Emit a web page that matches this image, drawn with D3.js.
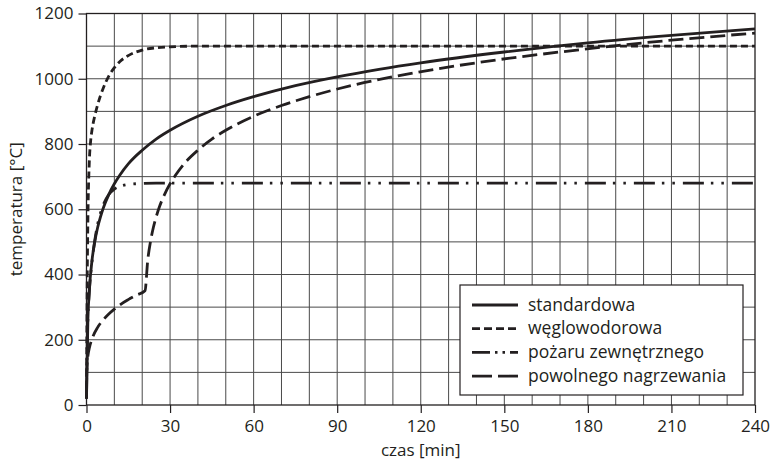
<!DOCTYPE html>
<html>
<head>
<meta charset="utf-8">
<script src="https://cdn.jsdelivr.net/npm/d3@7"></script>
<style>
  body { margin: 0; background: #fff; }
  svg { font-family: "Open Sans", sans-serif; }
</style>
</head>
<body>
<svg id="chart"></svg>
<script>
// values (time in min, temperature in °C)
const stdTime = [0, 0.5, 1, 2, 3, 4, 5, 6, 8, 10, 12, 15, 20, 25, 30, 40, 50, 60, 75, 90, 105, 120, 150, 180, 210, 240]
const stdTemp = [20, 261, 349, 445, 502, 544, 576, 603, 645, 678, 705, 739, 781, 815, 842, 885, 918, 945, 979, 1006, 1029, 1049, 1082, 1110, 1133, 1153]

const hcTime = [0, 0.25, 0.5, 1, 1.5, 2, 3, 4, 5, 6, 8, 10, 12, 15, 20, 25, 30, 40, 60, 120, 240]
const hcTemp = [20, 373, 568, 743, 810, 844, 887, 920, 948, 971, 1008, 1034, 1053, 1071, 1088, 1095, 1098, 1100, 1100, 1100, 1100]

const extTime = [0, 0.25, 0.5, 1, 2, 3, 4, 5, 6, 8, 10, 12, 15, 20, 25, 60, 120, 240]
const extTemp = [20, 182, 263, 346, 441, 506, 554, 588, 613, 645, 662, 670, 676, 679, 680, 680, 680, 680]

const slowTime = [0, 0.1, 0.5, 1, 2, 4, 6, 8, 10, 12, 15, 18, 21, 22, 23, 24, 25, 26, 28, 30, 32, 35, 40, 45, 50, 60, 70, 80, 95, 110, 125, 140, 170, 200, 230, 240]
const slowTemp = [20, 107, 150, 174, 203, 238, 261, 279, 294, 307, 323, 337, 350, 445, 502, 544, 576, 603, 645, 678, 705, 739, 781, 815, 842, 885, 918, 945, 979, 1006, 1029, 1049, 1082, 1110, 1133, 1140]

const seriesNames = ['standardowa', 'węglowodorowa', 'pożaru zewnętrznego', 'powolnego nagrzewania']
const xTicks = [0, 30, 60, 90, 120, 150, 180, 210, 240]
const yTicks = [0, 200, 400, 600, 800, 1000, 1200]

const width = 770, height = 461
const margin = {left: 86.5, right: 15, top: 13.5, bottom: 56}
const ink = '#231f20'

const svg = d3.select('#chart').attr('width', width).attr('height', height)

const x = d3.scaleLinear().domain([0, 240]).range([margin.left, width - margin.right])
const y = d3.scaleLinear().domain([0, 1200]).range([height - margin.bottom, margin.top])

// grid
svg.append('g').selectAll('line')
  .data(d3.range(10, 240, 10))
  .enter().append('line')
  .attr('x1', d => x(d)).attr('x2', d => x(d))
  .attr('y1', y(0)).attr('y2', y(1200))
  .attr('stroke', '#4a4a4a').attr('stroke-width', 1)
svg.append('g').selectAll('line')
  .data(d3.range(100, 1200, 100))
  .enter().append('line')
  .attr('x1', x(0)).attr('x2', x(240))
  .attr('y1', d => y(d)).attr('y2', d => y(d))
  .attr('stroke', '#4a4a4a').attr('stroke-width', 1)

// frame
svg.append('rect')
  .attr('x', x(0)).attr('y', y(1200))
  .attr('width', x(240) - x(0)).attr('height', y(0) - y(1200))
  .attr('fill', 'none').attr('stroke', ink).attr('stroke-width', 1.3)

// axes
const xAxis = svg.append('g')
  .attr('transform', 'translate(0,' + y(0) + ')')
  .call(d3.axisBottom(x).tickValues(xTicks).tickFormat(d3.format('d')).tickSize(8).tickPadding(7))
const yAxis = svg.append('g')
  .attr('transform', 'translate(' + x(0) + ',0)')
  .call(d3.axisLeft(y).tickValues(yTicks).tickFormat(d3.format('d')).tickSize(8).tickPadding(5))
;[xAxis, yAxis].forEach(a => {
  a.select('.domain').remove()
  a.selectAll('line').attr('stroke', ink).attr('stroke-width', 1.2)
  a.selectAll('text').attr('fill', ink).style('font-size', '17px')
    .style('font-family', '"Open Sans", sans-serif')
})

// curves
const line = d3.line()
  .x(d => x(d[0]))
  .y(d => y(d[1]))
  .curve(d3.curveMonotoneX)

const series = [
  {t: stdTime, v: stdTemp, dash: null, key: null},
  {t: hcTime, v: hcTemp, dash: '7 4', key: '8 4'},
  {t: extTime, v: extTemp, dash: '21 7 2.5 8 2.5 8', key: '18 5 2.5 5 2.5 5'},
  {t: slowTime, v: slowTemp, dash: '15 6', key: '20 6'}
]

svg.append('g').selectAll('path')
  .data(series)
  .enter().append('path')
  .attr('d', s => line(s.t.map((t, i) => [t, s.v[i]])))
  .attr('fill', 'none')
  .attr('stroke', ink)
  .attr('stroke-width', 2.8)
  .attr('stroke-dasharray', s => s.dash)

// legend
const legend = svg.append('g').attr('transform', 'translate(460,285)')
legend.append('rect')
  .attr('width', 283).attr('height', 110)
  .attr('fill', '#fff').attr('stroke', ink).attr('stroke-width', 1.2)
const row = legend.selectAll('g.row')
  .data(series)
  .enter().append('g')
  .attr('class', 'row')
  .attr('transform', (d, i) => 'translate(0,' + (20 + i * 23.7) + ')')
row.append('line')
  .attr('x1', 12).attr('x2', 58)
  .attr('stroke', ink).attr('stroke-width', 2.8)
  .attr('stroke-dasharray', s => s.key)
row.append('text')
  .attr('x', 68).attr('dy', '0.33em')
  .attr('fill', ink)
  .style('font-size', '17.5px')
  .text((d, i) => seriesNames[i])

// axis titles
svg.append('text')
  .attr('x', (x(0) + x(240)) / 2).attr('y', 456)
  .attr('text-anchor', 'middle').attr('fill', ink)
  .style('font-size', '17px')
  .text('czas [min]')
svg.append('text')
  .attr('transform', 'translate(22,' + ((y(0) + y(1200)) / 2) + ') rotate(-90)')
  .attr('text-anchor', 'middle').attr('fill', ink)
  .style('font-size', '17px')
  .text('temperatura [°C]')
</script>
</body>
</html>
